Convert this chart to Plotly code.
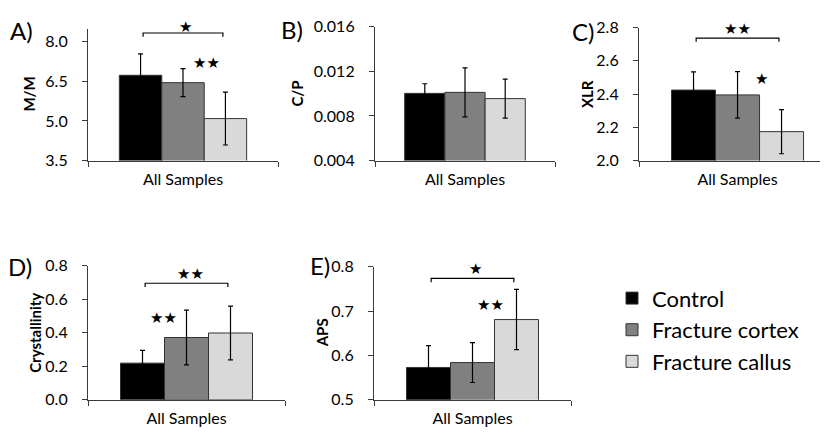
import plotly.graph_objects as go

# ---------------- data ----------------
groups = ["Control", "Fracture cortex", "Fracture callus"]
category = ["All Samples"]
bar_colors = ["#000000", "#808080", "#d9d9d9"]

mm_mean = [6.73, 6.45, 5.09]
mm_err = [0.81, 0.53, 1.00]
cp_mean = [0.01002, 0.01011, 0.00955]
cp_err = [0.00086, 0.00220, 0.00175]
xlr_mean = [2.424, 2.395, 2.174]
xlr_err = [0.110, 0.140, 0.133]
cry_mean = [0.219, 0.372, 0.399]
cry_err = [0.076, 0.163, 0.161]
aps_mean = [0.573, 0.584, 0.681]
aps_err = [0.049, 0.045, 0.068]

mm_ticks = [3.5, 5.0, 6.5, 8.0]
cp_ticks = [0.004, 0.008, 0.012, 0.016]
xlr_ticks = [2.0, 2.2, 2.4, 2.6, 2.8]
cry_ticks = [0.0, 0.2, 0.4, 0.6, 0.8]
aps_ticks = [0.5, 0.6, 0.7, 0.8]

W, H = 828, 441
OFF = 8  # page body margin offset of the plot div
FONT = "Lato"
STAR_FONT = "DejaVu Sans"
AX_COLOR = "#3a3a3a"


def px_x(p):
    return (p - OFF) / W


def px_y(p):
    return 1 - (p - OFF) / H


panels = [
    dict(letter="A)", title="M/M", mean=mm_mean, err=mm_err, ticks=mm_ticks, fmt=".1f",
         yrange=[3.5, 8.5], xpx=[88, 278], ypx=[19, 157], xrange=[-0.5, 0.5],
         letter_pos=(21, 21), title_x=29),
    dict(letter="B)", title="C/P", mean=cp_mean, err=cp_err, ticks=cp_ticks, fmt=".3f",
         yrange=[0.004, 0.016], xpx=[375, 555], ypx=[17, 157], xrange=[-0.5, 0.5],
         letter_pos=(292, 20), title_x=297),
    dict(letter="C)", title="XLR", mean=xlr_mean, err=xlr_err, ticks=xlr_ticks, fmt=".1f",
         yrange=[2.0, 2.8], xpx=[639, 828], ypx=[18, 157], xrange=[-0.5, 0.459],
         letter_pos=(583, 22), title_x=587),
    dict(letter="D)", title="Crystallinity", mean=cry_mean, err=cry_err, ticks=cry_ticks, fmt=".1f",
         yrange=[0.0, 0.8], xpx=[88, 285], ypx=[267, 407], xrange=[-0.5, 0.5],
         letter_pos=(20, 268), title_x=35),
    dict(letter="E)", title="APS", mean=aps_mean, err=aps_err, ticks=aps_ticks, fmt=".1f",
         yrange=[0.5, 0.8], xpx=[374, 571], ypx=[268, 407], xrange=[-0.5, 0.5],
         letter_pos=(320, 267), title_x=322),
]

fig = go.Figure()
layout = {}
annotations = []
shapes = []

for i, p in enumerate(panels):
    n = "" if i == 0 else str(i + 1)
    xa, ya = "x" + n, "y" + n
    for g, name in enumerate(groups):
        fig.add_trace(go.Bar(
            x=category, y=[p["mean"][g]], name=name, xaxis=xa, yaxis=ya,
            marker=dict(color=bar_colors[g], line=dict(color="#333333", width=1)),
            error_y=dict(type="data", array=[p["err"][g]], color="#000000",
                         thickness=1.2, width=2.5),
            showlegend=(i == 0), legendgroup=name,
        ))
    layout["xaxis" + n] = dict(
        domain=[px_x(p["xpx"][0]), min(px_x(p["xpx"][1]), 1.0)], anchor=ya,
        range=p["xrange"], type="category", tickson="boundaries",
        ticks="outside", ticklen=5, tickcolor=AX_COLOR, tickwidth=1.2,
        showline=True, linecolor=AX_COLOR, linewidth=1.2,
        showgrid=False, zeroline=False, fixedrange=True,
        tickfont=dict(family=FONT, size=16, color="#000000"),
        ticklabelstandoff=4,
    )
    layout["yaxis" + n] = dict(
        domain=[px_y(p["ypx"][1]), px_y(p["ypx"][0])], anchor=xa,
        range=p["yrange"], tickvals=p["ticks"], tickformat=p["fmt"],
        ticks="outside", ticklen=5, tickcolor=AX_COLOR, tickwidth=1.2,
        showline=True, linecolor=AX_COLOR, linewidth=1.2,
        showgrid=False, zeroline=False, fixedrange=True,
        tickfont=dict(family=FONT, size=16, color="#000000"),
        ticklabelstandoff=11,
    )
    annotations.append(dict(
        text=p["letter"], xref="paper", yref="paper",
        x=px_x(p["letter_pos"][0]), y=px_y(p["letter_pos"][1]),
        xanchor="center", yanchor="middle", showarrow=False,
        font=dict(family=FONT, size=24, color="#000000"),
    ))
    annotations.append(dict(
        text="<b>" + p["title"] + "</b>", xref="paper", yref="paper",
        x=px_x(p["title_x"]), y=px_y((p["ypx"][0] + p["ypx"][1]) / 2),
        xanchor="center", yanchor="middle", showarrow=False, textangle=-90,
        font=dict(family=FONT, size=15, color="#000000"),
    ))

# significance brackets (data coordinates of each panel)
brackets = [
    ("x", "y", -0.21, 0.21, 8.33, 8.19),
    ("x3", "y3", -0.21, 0.21, 2.737, 2.714),
    ("x4", "y4", -0.21, 0.21, 0.696, 0.673),
    ("x5", "y5", -0.21, 0.21, 0.774, 0.765),
]
for xr, yr, x0, x1, ytop, ybot in brackets:
    shapes.append(dict(
        type="path", xref=xr, yref=yr,
        path=f"M {x0} {ybot} L {x0} {ytop} L {x1} {ytop} L {x1} {ybot}",
        line=dict(color="#000000", width=1.2),
    ))

stars = [
    ("x", "y", 0.125, 7.20, "★★"),
    ("x3", "y3", 0.0, 2.789, "★★"),
    ("x3", "y3", 0.12, 2.489, "★"),
    ("x4", "y4", 0.02, 0.754, "★★"),
    ("x4", "y4", -0.115, 0.489, "★★"),
    ("x5", "y5", 0.013, 0.794, "★"),
    ("x5", "y5", 0.09, 0.714, "★★"),
]
for xr, yr, x, y, s in stars:
    annotations.append(dict(
        text=s, xref=xr, yref=yr, x=x, y=y, xanchor="center", yanchor="middle",
        showarrow=False, font=dict(family=STAR_FONT, size=15, color="#000000"),
    ))
# star above the bracket of panel A lies above the axis range -> paper coords
annotations.append(dict(
    text="★", xref="paper", yref="paper", x=px_x(185), y=px_y(17),
    xanchor="center", yanchor="middle", showarrow=False,
    font=dict(family=STAR_FONT, size=15, color="#000000"),
))

fig.update_layout(
    width=W, height=H,
    margin=dict(l=0, r=0, t=0, b=0),
    paper_bgcolor="white", plot_bgcolor="white",
    barmode="group", bargap=0.33, bargroupgap=0,
    showlegend=True,
    legend=dict(
        x=px_x(612), y=px_y(279), xanchor="left", yanchor="top",
        font=dict(family=FONT, size=22, color="#000000"),
        bgcolor="rgba(0,0,0,0)", traceorder="normal",
    ),
    annotations=annotations, shapes=shapes,
    **layout,
)

fig.write_html("out.html")
